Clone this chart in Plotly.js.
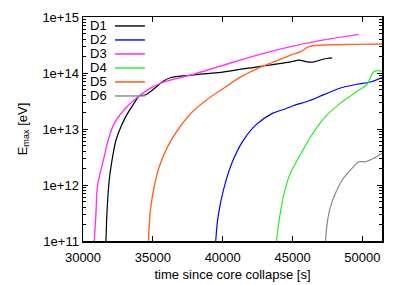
<!DOCTYPE html>
<html>
<head>
<meta charset="utf-8">
<script src="https://cdn.plot.ly/plotly-3.0.1.min.js"></script>
<style>html,body{margin:0;padding:0;background:#fff;}#chart{width:407px;height:285px;}</style>
</head>
<body>
<div id="chart"></div>
<script>
// D1
const d1_t = [31643, 31714, 31879, 32121, 32357, 32714, 33193, 33664, 34021, 34500, 35336, 35693, 36286, 37000, 40093, 42479, 44857, 45450, 46050, 46520, 47236, 47836];
const d1_e = [1.0e11, 3.2e11, 1.23e12, 3.2e12, 6.3e12, 1.1e13, 1.9e13, 2.9e13, 3.9e13, 4.1e13, 5.9e13, 7.0e13, 8.3e13, 8.8e13, 1.05e14, 1.29e14, 1.58e14, 1.70e14, 1.58e14, 1.58e14, 1.78e14, 1.86e14];
// D2
const d2_t = [39500, 39621, 39857, 40214, 40693, 41407, 42357, 43550, 44500, 45214, 46050, 47236, 48429, 49621, 50571, 51407];
const d2_e = [1.0e11, 2.2e11, 5.0e11, 1.15e12, 2.6e12, 5.9e12, 1.17e13, 1.9e13, 2.3e13, 2.7e13, 3.1e13, 4.1e13, 5.4e13, 6.3e13, 6.9e13, 8.3e13];
// D3
const d3_t = [30807, 30929, 31050, 31521, 31800, 32236, 32950, 33664, 34621, 35571, 36286, 37714, 40093, 42479, 44857, 47236, 49736];
const d3_e = [1.0e11, 3.2e11, 1.0e12, 3.2e12, 6.3e12, 1.26e13, 2.2e13, 3.3e13, 5.0e13, 6.6e13, 7.5e13, 9.2e13, 1.39e14, 2.09e14, 2.95e14, 3.9e14, 4.9e14];
// D4
const d4_t = [43857, 44021, 44264, 44621, 44857, 45571, 46286, 47236, 48429, 49621, 50336, 50807, 51164, 51407];
const d4_e = [1.0e11, 2.2e11, 5.0e11, 1.15e12, 1.66e12, 3.5e12, 7.2e12, 1.55e13, 2.9e13, 4.7e13, 6.3e13, 1.05e14, 1.1e14, 1.05e14];
// D5
const d5_t = [34693, 34736, 34857, 35093, 35450, 36050, 36764, 37714, 38907, 40093, 41286, 42479, 43664, 44857, 45571, 46164, 47236, 49621, 51450];
const d5_e = [1.0e11, 1.8e11, 4.1e11, 9.3e11, 2.1e12, 4.8e12, 9.5e12, 1.9e13, 3.4e13, 5.4e13, 8.5e13, 1.2e14, 1.58e14, 2.09e14, 2.4e14, 2.95e14, 3.16e14, 3.24e14, 3.3e14];
// D6
const d6_t = [47357, 47479, 47714, 48071, 48550, 49264, 49736, 50214, 50807, 51407];
const d6_e = [1.0e11, 2.1e11, 4.1e11, 7.1e11, 1.23e12, 2.0e12, 2.6e12, 2.6e12, 3.0e12, 3.7e12];

const names = ["D1", "D2", "D3", "D4", "D5", "D6"];
const colors = ["#000000", "#0000ff", "#ff33ff", "#22ee22", "#ff6622", "#888888"];
const widths = [1.2, 1.2, 1.4, 1.2, 1.4, 1.2];
const smooth = [0.6, 1.0, 1.0, 1.0, 1.0, 0.8];
const xVals = [d1_t, d2_t, d3_t, d4_t, d5_t, d6_t];
const yVals = [d1_e, d2_e, d3_e, d4_e, d5_e, d6_e];

const xTicks = [30000, 35000, 40000, 45000, 50000];
const yTicks = [1e11, 1e12, 1e13, 1e14, 1e15];
const yTickText = ["1e+11", "1e+12", "1e+13", "1e+14", "1e+15"];

const font = {family: "Liberation Sans, Arial, sans-serif", size: 13, color: "#000"};

const traces = names.map((n, i) => ({
  x: xVals[i], y: yVals[i], name: n, type: "scatter", mode: "lines",
  line: {color: colors[i], width: widths[i], shape: "spline", smoothing: smooth[i]}, showlegend: false
}));

// custom gnuplot-style legend (text left, line sample right)
const annotations = [];
const shapes = [];
names.forEach((n, i) => {
  const yp = 0.96 - i * 0.0625;
  annotations.push({xref: "paper", yref: "paper", x: 0.017, y: yp, xanchor: "left", yanchor: "middle",
    text: n, showarrow: false, font: font});
  shapes.push({type: "line", xref: "paper", yref: "paper", x0: 0.107, x1: 0.207, y0: yp, y1: yp,
    line: {color: colors[i], width: widths[i] + 0.2}});
});

const layout = {
  width: 407, height: 285,
  margin: {l: 83, r: 25, t: 17, b: 44},
  paper_bgcolor: "#fff", plot_bgcolor: "#fff",
  font: font,
  xaxis: {
    range: [30000, 51400], tickvals: xTicks, ticktext: xTicks.map(String),
    ticks: "inside", ticklen: 5, tickcolor: "#000", tickwidth: 1, ticklabelstandoff: 4,
    showline: true, linecolor: "#000", linewidth: 1.5, mirror: "ticks",
    showgrid: false, zeroline: false,
    title: {text: "time since core collapse [s]", font: font, standoff: 6}
  },
  yaxis: {
    type: "log", range: [11, 15], tickvals: yTicks, ticktext: yTickText,
    ticks: "inside", ticklen: 5, tickcolor: "#000", tickwidth: 1,
    minor: {ticks: "inside", ticklen: 3, dtick: "D1", tickcolor: "#000", showgrid: false},
    showline: true, linecolor: "#000", linewidth: 1.5, mirror: "ticks",
    showgrid: false, zeroline: false,
    title: {text: "E<sub>max</sub> [eV]", font: font, standoff: 12}
  },
  annotations: annotations,
  shapes: shapes
};

Plotly.newPlot("chart", traces, layout, {displayModeBar: false, staticPlot: true});
</script>
</body>
</html>
